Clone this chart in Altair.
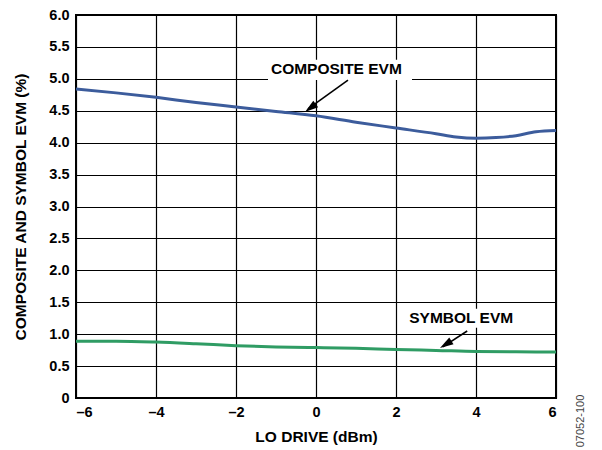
import altair as alt
import pandas as pd

# ---- data ----
comp_x = [-6, -5, -4, -3, -2, -1, 0, 1, 2, 3, 3.5, 4, 4.5, 5, 5.5, 6]
comp_y = [4.84, 4.78, 4.71, 4.63, 4.56, 4.49, 4.42, 4.32, 4.23, 4.14, 4.09, 4.07, 4.08, 4.11, 4.17, 4.19]
sym_x = [-6, -5, -4, -3, -2, -1, 0, 1, 2, 3, 4, 5, 6]
sym_y = [0.89, 0.89, 0.876, 0.85, 0.82, 0.80, 0.79, 0.78, 0.76, 0.746, 0.73, 0.725, 0.72]

series_names = ["COMPOSITE EVM", "SYMBOL EVM"]
series_colors = ["#3C5C9C", "#2F9C64"]

x_ticks = [-6, -4, -2, 0, 2, 4, 6]
y_ticks = [0, 0.5, 1, 1.5, 2, 2.5, 3, 3.5, 4, 4.5, 5, 5.5, 6]

# annotation placements (data units)
label_text = ["COMPOSITE EVM", "SYMBOL EVM"]
label_x = [0.51, 3.63]
label_y = [5.15, 1.25]
box_x1 = [-1.2, 2.2]
box_x2 = [2.4, 5.05]
box_y1 = [4.98, 1.10]
box_y2 = [5.30, 1.40]
arrow_x1 = [0.80, 3.78]
arrow_y1 = [4.98, 1.05]
arrow_x2 = [-0.20, 3.17]
arrow_y2 = [4.53, 0.80]
head_x = [-0.275, 3.10]
head_y = [4.48, 0.783]
head_angle = [233, 238]

df = pd.DataFrame({
    "x": comp_x + sym_x,
    "y": comp_y + sym_y,
    "series": [series_names[0]] * len(comp_x) + [series_names[1]] * len(sym_x),
})
ann = pd.DataFrame({
    "text": label_text, "tx": label_x, "ty": label_y,
    "bx1": box_x1, "bx2": box_x2, "by1": box_y1, "by2": box_y2,
    "ax1": arrow_x1, "ay1": arrow_y1, "ax2": arrow_x2, "ay2": arrow_y2,
    "hx": head_x, "hy": head_y, "ha": head_angle,
})

FONT = "Liberation Sans"

xscale = alt.Scale(domain=[-6, 6], nice=False, zero=False)
yscale = alt.Scale(domain=[0, 6], nice=False)

xenc = alt.X("x:Q", scale=xscale, axis=alt.Axis(
    values=x_ticks, title="LO DRIVE (dBm)",
    labelExpr="datum.value < 0 ? '\u2013' + abs(datum.value) : datum.label",
    labelPadding=7, titlePadding=11, labelOverlap=False))
yenc = alt.Y("y:Q", scale=yscale, axis=alt.Axis(
    values=y_ticks, title="COMPOSITE AND SYMBOL EVM (%)",
    labelExpr="datum.value == 0 ? '0' : format(datum.value, '.1f')",
    labelPadding=7, titlePadding=20, labelOverlap=False, tickCount=13))

lines = alt.Chart(df).mark_line(interpolate="monotone", strokeWidth=3).encode(
    x=xenc, y=yenc,
    color=alt.Color("series:N", scale=alt.Scale(domain=series_names, range=series_colors), legend=None),
)

base = alt.Chart(ann)
boxes = base.mark_rect(color="white").encode(
    x=alt.X("bx1:Q", scale=xscale), x2="bx2:Q",
    y=alt.Y("by1:Q", scale=yscale), y2="by2:Q")
texts = base.mark_text(font=FONT, fontWeight="bold", fontSize=15.5, color="black",
                       align="center", baseline="middle").encode(
    x=alt.X("tx:Q", scale=xscale), y=alt.Y("ty:Q", scale=yscale), text="text:N")
arrows = base.mark_rule(color="black", strokeWidth=1.6).encode(
    x=alt.X("ax1:Q", scale=xscale), x2="ax2:Q",
    y=alt.Y("ay1:Q", scale=yscale), y2="ay2:Q")
heads = base.mark_point(shape="M0,0L-0.6,2L0.6,2Z", filled=True, color="black",
                        opacity=1, size=180).encode(
    x=alt.X("hx:Q", scale=xscale), y=alt.Y("hy:Q", scale=yscale),
    angle=alt.Angle("ha:Q", scale=None))

watermark = alt.Chart(pd.DataFrame({"t": ["07052-100"]})).mark_text(
    font=FONT, fontSize=11, color="#444", angle=270, align="center", baseline="middle"
).encode(x=alt.value(505), y=alt.value(406), text="t:N")

chart = alt.layer(boxes, lines, arrows, heads, texts, watermark).properties(
    width=480, height=383,
    autosize=alt.AutoSizeParams(type="none"),
    padding={"left": 68, "top": 7, "right": 38, "bottom": 52},
).configure_view(
    stroke="black", strokeWidth=2
).configure_axis(
    domain=False, ticks=False, grid=True, gridColor="black", gridOpacity=1, gridWidth=1.2,
    labelFont=FONT, labelFontWeight="bold", labelFontSize=14.5, labelColor="black",
    titleFont=FONT, titleFontWeight="bold", titleFontSize=15.5, titleColor="black",
)

chart.save("out.html", embed_options={"renderer": "svg", "actions": False})
